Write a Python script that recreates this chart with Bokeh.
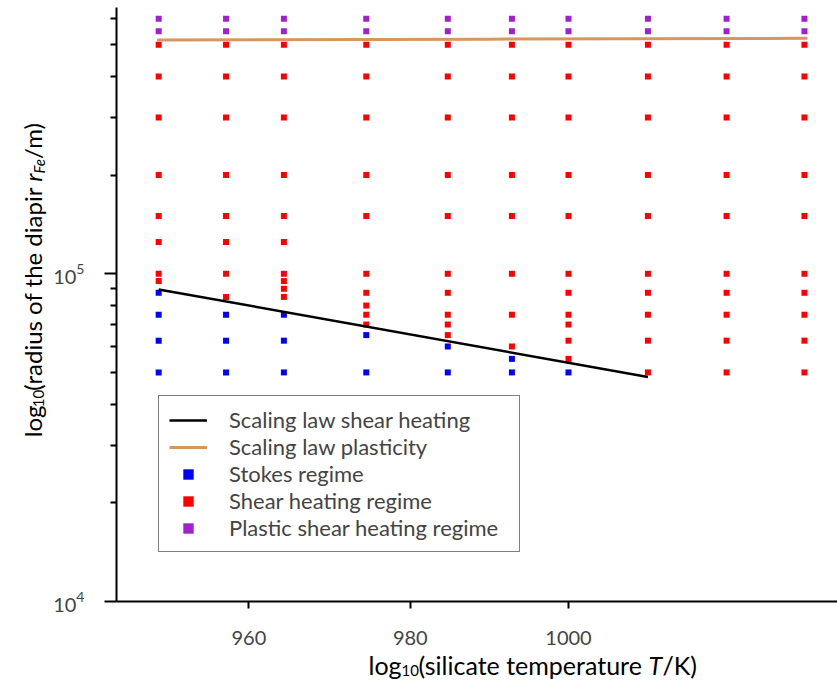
from math import pi
from bokeh.plotting import figure
from bokeh.layouts import column, row
from bokeh.core.properties import value
from bokeh.models import (Range1d, FixedTicker, NumeralTickFormatter,
                          Legend, LegendItem, ColumnDataSource)
from bokeh.embed import file_html
from bokeh.resources import INLINE

# ---------------- data ----------------
temperature_columns = [949.0, 957.2, 964.3, 974.5, 984.7, 992.8, 1000.0, 1010.2, 1020.4, 1030.6]

stokes_radii_by_column = [
    [87.5e3, 75e3, 62.5e3, 50e3],
    [75e3, 62.5e3, 50e3],
    [75e3, 62.5e3, 50e3],
    [65e3, 50e3],
    [60e3, 50e3],
    [55e3, 50e3],
    [50e3],
    [],
    [],
    [],
]

shear_radii_by_column = [
    [500e3, 400e3, 300e3, 200e3, 150e3, 125e3, 100e3, 95e3],
    [500e3, 400e3, 300e3, 200e3, 150e3, 125e3, 100e3, 85e3],
    [500e3, 400e3, 300e3, 200e3, 150e3, 125e3, 100e3, 95e3, 90e3, 85e3],
    [500e3, 400e3, 300e3, 200e3, 150e3, 100e3, 87.5e3, 80e3, 75e3, 70e3],
    [500e3, 400e3, 300e3, 200e3, 150e3, 100e3, 87.5e3, 75e3, 70e3, 65e3],
    [500e3, 400e3, 300e3, 200e3, 150e3, 100e3, 75e3, 60e3],
    [500e3, 400e3, 300e3, 200e3, 150e3, 100e3, 87.5e3, 75e3, 70e3, 62.5e3, 55e3],
    [500e3, 400e3, 300e3, 200e3, 150e3, 100e3, 87.5e3, 75e3, 62.5e3, 50e3],
    [500e3, 400e3, 300e3, 200e3, 150e3, 100e3, 87.5e3, 75e3, 62.5e3, 50e3],
    [500e3, 400e3, 300e3, 200e3, 150e3, 100e3, 87.5e3, 75e3, 62.5e3, 50e3],
]

plastic_radii_by_column = [[600e3, 550e3] for _ in temperature_columns]

shear_law_T = [949.0, 1010.2]
shear_law_r = [89.6e3, 48.4e3]

plastic_law_T = [948.8, 990.0, 1031.0]
plastic_law_r = [5.17e5, 5.20e5, 5.23e5]

x_ticks = [960, 980, 1000]
y_ticks = [1e4, 1e5]
y_minor_ticks = [2e4, 3e4, 4e4, 5e4, 6e4, 7e4, 8e4, 9e4, 2e5, 3e5, 4e5, 5e5, 6e5]

legend_labels = ["Scaling law shear heating", "Scaling law plasticity",
                 "Stokes regime", "Shear heating regime", "Plastic shear heating regime"]

# axis-title pieces (main text, subscript, italic symbol)
x_title_parts = ["log", "10", "(silicate temperature ", "T", "/K)"]
y_title_parts = ["log", "10", "(radius of the diapir ", "r", "Fe", " /m)"]


def flatten(by_column):
    xs, ys = [], []
    for t, radii in zip(temperature_columns, by_column):
        for r in radii:
            xs.append(t)
            ys.append(r)
    return dict(T=xs, r=ys)


FONT = "Lato"
FS = "20px"
XTITLE = "25px"
YTITLE = "24px"
SUB = "15px"

# ---------------- main plot ----------------
p = figure(width=787, height=651, x_axis_type="log", y_axis_type="log",
           x_range=Range1d(943.9, 1034.96), y_range=Range1d(1e4, 6.494e5),
           output_backend="svg", toolbar_location=None,
           min_border_left=64, min_border_right=0, min_border_top=7, min_border_bottom=50)
p.outline_line_color = None
p.grid.visible = False
p.background_fill_color = "white"

xa = p.xaxis[0]
xa.ticker = FixedTicker(ticks=x_ticks, minor_ticks=[])
xa.formatter = NumeralTickFormatter(format="0")
xa.axis_line_width = 2
xa.major_tick_line_width = 2
xa.major_tick_out = 7
xa.major_tick_in = 0
xa.minor_tick_line_color = None
xa.major_label_text_font = FONT
xa.major_label_text_font_size = FS
xa.major_label_standoff = 22

ya = p.yaxis[0]
ya.ticker = FixedTicker(ticks=y_ticks, minor_ticks=y_minor_ticks)
ya.axis_line_width = 2
ya.major_tick_line_width = 2
ya.minor_tick_line_width = 2
ya.major_tick_out = 12
ya.major_tick_in = 0
ya.minor_tick_out = 6
ya.minor_tick_in = 0
ya.major_label_text_font = FONT
ya.major_label_text_font_size = FS
ya.major_label_standoff = 20

src_stokes = ColumnDataSource(flatten(stokes_radii_by_column))
src_shear = ColumnDataSource(flatten(shear_radii_by_column))
src_plastic = ColumnDataSource(flatten(plastic_radii_by_column))

r_stokes = p.scatter("T", "r", source=src_stokes, marker="square", size=6,
                     fill_color="#0000FF", line_color=None)
r_shear = p.scatter("T", "r", source=src_shear, marker="square", size=6,
                    fill_color="#FF0000", line_color=None)
r_plastic = p.scatter("T", "r", source=src_plastic, marker="square", size=6,
                      fill_color="#A020D0", line_color=None)

r_plast_law = p.line(plastic_law_T, plastic_law_r, line_color="#D4975F", line_width=3)
r_shear_law = p.line(shear_law_T, shear_law_r, line_color="black", line_width=2.5)

legend = Legend(items=[
    LegendItem(label=legend_labels[0], renderers=[r_shear_law]),
    LegendItem(label=legend_labels[1], renderers=[r_plast_law]),
    LegendItem(label=legend_labels[2], renderers=[r_stokes]),
    LegendItem(label=legend_labels[3], renderers=[r_shear]),
    LegendItem(label=legend_labels[4], renderers=[r_plastic]),
], location=(42, 49))
legend.border_line_color = "black"
legend.border_line_width = 1.5
legend.background_fill_alpha = 1
legend.padding = 10
legend.spacing = 0
legend.glyph_width = 38
legend.glyph_height = 26
legend.label_height = 26
legend.label_width = 280
legend.label_standoff = 22
legend.label_text_font = FONT
legend.label_text_font_size = "22px"
legend.margin = 0
p.add_layout(legend, "center")


# ---------------- strips holding the axis titles ----------------
def strip(w, h):
    f = figure(width=w, height=h, x_range=Range1d(0, w), y_range=Range1d(0, h),
               output_backend="svg", toolbar_location=None, min_border=0,
               x_axis_location=None, y_axis_location=None)
    f.outline_line_color = None
    f.grid.visible = False
    f.background_fill_color = "white"
    return f


def put(f, x, y, text, size, style="normal", angle=0.0):
    f.text(x=[x], y=[y], text=[text], text_font=value(FONT), text_font_size=size,
           text_font_style=style, text_align="left", text_baseline="alphabetic",
           angle=angle, text_color="black")


# y title strip: 50 x 651 (y counted upward from the strip bottom), text reads upward
ys = strip(50, 651)
A = pi / 2
put(ys, 32, 180, y_title_parts[0], YTITLE, angle=A)
put(ys, 38, 213, y_title_parts[1], SUB, angle=A)
put(ys, 32, 231, y_title_parts[2], YTITLE, angle=A)
put(ys, 32, 460, y_title_parts[3], YTITLE, style="italic", angle=A)
put(ys, 38, 469, y_title_parts[4], SUB, style="italic", angle=A)
put(ys, 32, 485, y_title_parts[5], YTITLE, angle=A)

# x title strip: 837 x 35
xs = strip(837, 35)
put(xs, 368, 22, x_title_parts[0], XTITLE)
put(xs, 401, 16, x_title_parts[1], SUB)
put(xs, 418, 22, x_title_parts[2], XTITLE)
put(xs, 648, 22, x_title_parts[3], XTITLE, style="italic")
put(xs, 662, 22, x_title_parts[4], XTITLE)

layout = column(row(ys, p, spacing=0), xs, spacing=0)

open("out.html", "w").write(file_html(layout, INLINE))
